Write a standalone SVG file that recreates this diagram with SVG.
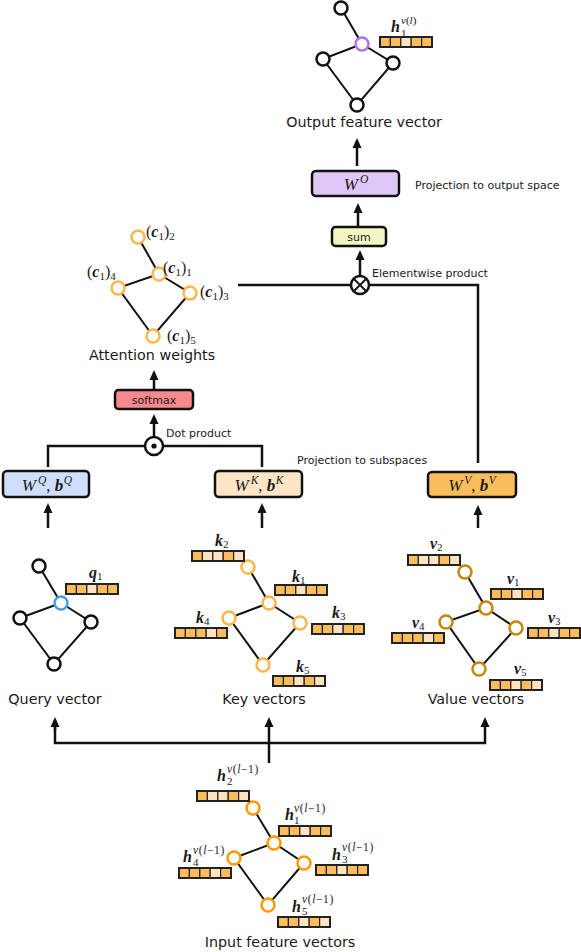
<svg xmlns="http://www.w3.org/2000/svg" width="581" height="952" viewBox="0 0 581 952">
<style>
.t{font-family:"DejaVu Sans",Verdana,sans-serif;fill:#1a1a1a}
.big{font-size:14.3px}
.sm{font-size:11px}
.m{font-family:"Liberation Serif","Times New Roman",serif;fill:#1a1a1a}
.bi{font-weight:bold;font-style:italic}
.it{font-style:italic}
.e{stroke:#111;stroke-width:2;fill:none}
.n{fill:#fff;stroke-width:2.5}
.nk{stroke:#111}
.np{stroke:#b070ee}
.nb{stroke:#4d9de6}
.nl{stroke:#fdb54e}
.nv{stroke:#c8860f}
.ni{stroke:#ff9a00}
.box{stroke:#111;stroke-width:2.5}
.c{stroke:#111;stroke-width:2.5;fill:none}
.o{fill:#fbbd5c;stroke:#222;stroke-width:1.2}
.w{fill:#fde4c0;stroke:#222;stroke-width:1.2}
.bo{fill:none;stroke:#222;stroke-width:2}
</style>
<defs>
<marker id="ah" viewBox="0 0 10 10" refX="5" refY="5" markerWidth="10" markerHeight="10" markerUnits="userSpaceOnUse" orient="auto"><path d="M0,0.5 L10,5 L0,9.5 z" fill="#111"/></marker>
<g id="bA"><rect x="0" width="10.4" height="10" class="o"/><rect x="10.4" width="10.4" height="10" class="o"/><rect x="20.8" width="10.4" height="10" class="w"/><rect x="31.2" width="10.4" height="10" class="o"/><rect x="41.6" width="10.4" height="10" class="o"/><rect width="52" height="10" class="bo"/></g>
<g id="bB"><rect x="0" width="10.4" height="10" class="o"/><rect x="10.4" width="10.4" height="10" class="w"/><rect x="20.8" width="10.4" height="10" class="w"/><rect x="31.2" width="10.4" height="10" class="o"/><rect x="41.6" width="10.4" height="10" class="w"/><rect width="52" height="10" class="bo"/></g>
<g id="bD"><rect x="0" width="10.4" height="10" class="o"/><rect x="10.4" width="10.4" height="10" class="o"/><rect x="20.8" width="10.4" height="10" class="o"/><rect x="31.2" width="10.4" height="10" class="w"/><rect x="41.6" width="10.4" height="10" class="o"/><rect width="52" height="10" class="bo"/></g>
<g id="bE"><rect x="0" width="10.4" height="10" class="o"/><rect x="10.4" width="10.4" height="10" class="o"/><rect x="20.8" width="10.4" height="10" class="w"/><rect x="31.2" width="10.4" height="10" class="o"/><rect x="41.6" width="10.4" height="10" class="w"/><rect width="52" height="10" class="bo"/></g>
</defs>

<!-- connectors -->
<g id="connectors">
<line class="c" x1="357" y1="166" x2="357" y2="143" marker-end="url(#ah)"/>
<line class="c" x1="358" y1="227" x2="358" y2="208" marker-end="url(#ah)"/>
<line class="c" x1="360" y1="276" x2="360" y2="255" marker-end="url(#ah)"/>
<line class="c" x1="238" y1="285" x2="351" y2="285"/>
<polyline class="c" points="369,285 478,285 478,463"/>
<line class="c" x1="154" y1="389" x2="154" y2="375" marker-end="url(#ah)"/>
<line class="c" x1="154" y1="437" x2="154" y2="419" marker-end="url(#ah)"/>
<polyline class="c" points="145,446 48,446 48,467"/>
<polyline class="c" points="163,446 262,446 262,467"/>
<line class="c" x1="48" y1="528" x2="48" y2="508" marker-end="url(#ah)"/>
<line class="c" x1="262" y1="528" x2="262" y2="508" marker-end="url(#ah)"/>
<line class="c" x1="478" y1="528" x2="478" y2="510" marker-end="url(#ah)"/>
<polyline class="c" points="55,722 55,743 485,743 485,722" marker-end="url(#ah)"/>
<line class="c" x1="55" y1="730" x2="55" y2="722" marker-end="url(#ah)"/>
<line class="c" x1="269" y1="763" x2="269" y2="722" marker-end="url(#ah)"/>
</g>

<!-- output graph -->
<g id="output-graph">
<path class="e" d="M341,8 L362,44 L323,59 L357,105 L393,63 L362,44"/>
<circle class="n nk" cx="341" cy="8" r="6.5"/>
<circle class="n np" cx="362" cy="44" r="6.5"/>
<circle class="n nk" cx="323" cy="59" r="6.5"/>
<circle class="n nk" cx="393" cy="63" r="6.5"/>
<circle class="n nk" cx="357" cy="105" r="6.5"/>
<use href="#bA" x="380" y="37"/>
<text class="m bi" x="391" y="32" font-size="16">h</text>
<text class="m" x="401" y="24" font-size="11"><tspan class="it">v</tspan>(<tspan class="it">l</tspan>)</text>
<text class="m" x="401" y="37" font-size="11">1</text>
<text class="t big" x="364" y="127" text-anchor="middle">Output feature vector</text>
</g>

<g id="WO">
<rect class="box" x="312" y="171" width="87" height="25" rx="4" fill="#dfc7f8"/>
<text class="m" x="356" y="190" text-anchor="middle" font-size="17"><tspan class="it">W</tspan><tspan font-size="11.5" dx="2" dy="-7" class="it">O</tspan></text>
<text class="t sm" x="415" y="189">Projection to output space</text>
</g>

<g id="sum">
<rect class="box" x="332" y="227" width="54" height="19" rx="3.5" fill="#f3f6c3"/>
<text class="t sm" x="359" y="241" text-anchor="middle">sum</text>
</g>

<g id="elementwise">
<circle cx="360" cy="285" r="9" fill="#fff" stroke="#111" stroke-width="2.5"/>
<path d="M354,279 L366,291 M366,279 L354,291" stroke="#111" stroke-width="1.8"/>
<text class="t sm" x="372" y="277">Elementwise product</text>
</g>

<!-- attention weights -->
<g id="attention-graph">
<path class="e" d="M138,237 L159,274 L118,288 L153,336 L190,293 L159,274"/>
<circle class="n nl" cx="138" cy="237" r="6.5"/>
<circle class="n nl" cx="159" cy="274" r="6.5"/>
<circle class="n nl" cx="118" cy="288" r="6.5"/>
<circle class="n nl" cx="190" cy="293" r="6.5"/>
<circle class="n nl" cx="153" cy="336" r="6.5"/>
<text class="m" x="146" y="237" font-size="16">(<tspan class="bi">c</tspan><tspan font-size="11" dy="3">1</tspan><tspan dy="-3">)</tspan><tspan font-size="11" dy="3">2</tspan></text>
<text class="m" x="163" y="273" font-size="16">(<tspan class="bi">c</tspan><tspan font-size="11" dy="3">1</tspan><tspan dy="-3">)</tspan><tspan font-size="11" dy="3">1</tspan></text>
<text class="m" x="87" y="277" font-size="16">(<tspan class="bi">c</tspan><tspan font-size="11" dy="3">1</tspan><tspan dy="-3">)</tspan><tspan font-size="11" dy="3">4</tspan></text>
<text class="m" x="200" y="297" font-size="16">(<tspan class="bi">c</tspan><tspan font-size="11" dy="3">1</tspan><tspan dy="-3">)</tspan><tspan font-size="11" dy="3">3</tspan></text>
<text class="m" x="167" y="341" font-size="16">(<tspan class="bi">c</tspan><tspan font-size="11" dy="3">1</tspan><tspan dy="-3">)</tspan><tspan font-size="11" dy="3">5</tspan></text>
<text class="t big" x="152" y="360" text-anchor="middle">Attention weights</text>
</g>

<g id="softmax">
<rect class="box" x="115" y="390" width="78" height="19" rx="3.5" fill="#f5898b"/>
<text class="t sm" x="154" y="404" text-anchor="middle">softmax</text>
</g>

<g id="dot-product">
<circle cx="154" cy="446" r="9" fill="#fff" stroke="#111" stroke-width="2.5"/>
<circle cx="154" cy="446" r="2.6" fill="#111"/>
<text class="t sm" x="166" y="437">Dot product</text>
</g>

<g id="WQ">
<rect class="box" x="3" y="471" width="86" height="26" rx="4" fill="#cfdffb"/>
<text class="m" x="47" y="491" text-anchor="middle" font-size="17"><tspan class="it">W</tspan><tspan font-size="11.5" dx="2" dy="-7" class="it">Q</tspan><tspan dy="7">,  </tspan><tspan class="bi">b</tspan><tspan font-size="11.5" dx="0.5" dy="-7" class="it">Q</tspan></text>
</g>
<g id="WK">
<rect class="box" x="215" y="471" width="87" height="26" rx="4" fill="#fde5c6"/>
<text class="m" x="259" y="491" text-anchor="middle" font-size="17"><tspan class="it">W</tspan><tspan font-size="11.5" dx="2" dy="-7" class="it">K</tspan><tspan dy="7">,  </tspan><tspan class="bi">b</tspan><tspan font-size="11.5" dx="0.5" dy="-7" class="it">K</tspan></text>
<text class="t sm" x="297" y="464">Projection to subspaces</text>
</g>
<g id="WV">
<rect class="box" x="428" y="472" width="88" height="25" rx="4" fill="#fbbd5b"/>
<text class="m" x="472" y="491" text-anchor="middle" font-size="17"><tspan class="it">W</tspan><tspan font-size="11.5" dx="2" dy="-7" class="it">V</tspan><tspan dy="7">,  </tspan><tspan class="bi">b</tspan><tspan font-size="11.5" dx="0.5" dy="-7" class="it">V</tspan></text>
</g>

<!-- query -->
<g id="query-graph">
<path class="e" d="M39,566 L61,603 L20,618 L54,664 L91,622 L61,603"/>
<circle class="n nk" cx="39" cy="566" r="6.5"/>
<circle class="n nb" cx="61" cy="603" r="6.5"/>
<circle class="n nk" cx="20" cy="618" r="6.5"/>
<circle class="n nk" cx="91" cy="622" r="6.5"/>
<circle class="n nk" cx="54" cy="664" r="6.5"/>
<use href="#bA" x="66" y="584"/>
<text class="m" x="89" y="578" font-size="16"><tspan class="bi">q</tspan><tspan font-size="11" dy="2">1</tspan></text>
<text class="t big" x="55" y="704" text-anchor="middle">Query vector</text>
</g>

<!-- key -->
<g id="key-graph">
<path class="e" d="M248,567 L269,603 L229,618 L263,665 L300,623 L269,603"/>
<circle class="n nl" cx="248" cy="567" r="6.5"/>
<circle class="n nl" cx="269" cy="603" r="6.5"/>
<circle class="n nl" cx="229" cy="618" r="6.5"/>
<circle class="n nl" cx="300" cy="623" r="6.5"/>
<circle class="n nl" cx="263" cy="665" r="6.5"/>
<use href="#bB" x="192" y="551"/>
<use href="#bA" x="275" y="585"/>
<use href="#bD" x="175" y="628"/>
<use href="#bA" x="312" y="624"/>
<use href="#bE" x="273" y="676"/>
<text class="m" x="215" y="546" font-size="16"><tspan class="bi">k</tspan><tspan font-size="11" dy="2">2</tspan></text>
<text class="m" x="292" y="582" font-size="16"><tspan class="bi">k</tspan><tspan font-size="11" dy="2">1</tspan></text>
<text class="m" x="196" y="623" font-size="16"><tspan class="bi">k</tspan><tspan font-size="11" dy="2">4</tspan></text>
<text class="m" x="332" y="618" font-size="16"><tspan class="bi">k</tspan><tspan font-size="11" dy="2">3</tspan></text>
<text class="m" x="296" y="672" font-size="16"><tspan class="bi">k</tspan><tspan font-size="11" dy="2">5</tspan></text>
<text class="t big" x="264" y="704" text-anchor="middle">Key vectors</text>
</g>

<!-- value -->
<g id="value-graph">
<path class="e" d="M465,572 L486,608 L446,622 L479,669 L516,628 L486,608"/>
<circle class="n nv" cx="465" cy="572" r="6.5"/>
<circle class="n nv" cx="486" cy="608" r="6.5"/>
<circle class="n nv" cx="446" cy="622" r="6.5"/>
<circle class="n nv" cx="516" cy="628" r="6.5"/>
<circle class="n nv" cx="479" cy="669" r="6.5"/>
<use href="#bB" x="408" y="555"/>
<use href="#bA" x="491" y="589"/>
<use href="#bD" x="392" y="633"/>
<use href="#bA" x="528" y="628"/>
<use href="#bE" x="490" y="680"/>
<text class="m" x="430" y="549" font-size="16"><tspan class="bi">v</tspan><tspan font-size="11" dy="2">2</tspan></text>
<text class="m" x="507" y="584" font-size="16"><tspan class="bi">v</tspan><tspan font-size="11" dy="2">1</tspan></text>
<text class="m" x="412" y="628" font-size="16"><tspan class="bi">v</tspan><tspan font-size="11" dy="2">4</tspan></text>
<text class="m" x="548" y="623" font-size="16"><tspan class="bi">v</tspan><tspan font-size="11" dy="2">3</tspan></text>
<text class="m" x="514" y="674" font-size="16"><tspan class="bi">v</tspan><tspan font-size="11" dy="2">5</tspan></text>
<text class="t big" x="476" y="704" text-anchor="middle">Value vectors</text>
</g>

<!-- input -->
<g id="input-graph">
<path class="e" d="M253,808 L274,843 L234,858 L268,905 L304,863 L274,843"/>
<circle class="n ni" cx="253" cy="808" r="6.5"/>
<circle class="n ni" cx="274" cy="843" r="6.5"/>
<circle class="n ni" cx="234" cy="858" r="6.5"/>
<circle class="n ni" cx="304" cy="863" r="6.5"/>
<circle class="n ni" cx="268" cy="905" r="6.5"/>
<use href="#bB" x="197" y="791"/>
<use href="#bA" x="279" y="826"/>
<use href="#bD" x="179" y="868"/>
<use href="#bA" x="316" y="865"/>
<use href="#bE" x="278" y="917"/>
<text class="m bi" x="217" y="781" font-size="16">h</text>
<text class="m" x="227" y="773" font-size="11.5" letter-spacing="0.6"><tspan class="it">v</tspan>(<tspan class="it">l</tspan>−1)</text>
<text class="m" x="227" y="785" font-size="11">2</text>
<text class="m bi" x="285" y="820" font-size="16">h</text>
<text class="m" x="294" y="812" font-size="11.5" letter-spacing="0.6"><tspan class="it">v</tspan>(<tspan class="it">l</tspan>−1)</text>
<text class="m" x="294" y="824" font-size="11">1</text>
<text class="m bi" x="183" y="862" font-size="16">h</text>
<text class="m" x="193" y="854" font-size="11.5" letter-spacing="0.6"><tspan class="it">v</tspan>(<tspan class="it">l</tspan>−1)</text>
<text class="m" x="193" y="866" font-size="11">4</text>
<text class="m bi" x="332" y="860" font-size="16">h</text>
<text class="m" x="342" y="851" font-size="11.5" letter-spacing="0.6"><tspan class="it">v</tspan>(<tspan class="it">l</tspan>−1)</text>
<text class="m" x="342" y="863" font-size="11">3</text>
<text class="m bi" x="292" y="912" font-size="16">h</text>
<text class="m" x="302" y="903" font-size="11.5" letter-spacing="0.6"><tspan class="it">v</tspan>(<tspan class="it">l</tspan>−1)</text>
<text class="m" x="302" y="915" font-size="11">5</text>
<text class="t big" x="280" y="947" text-anchor="middle">Input feature vectors</text>
</g>
</svg>
